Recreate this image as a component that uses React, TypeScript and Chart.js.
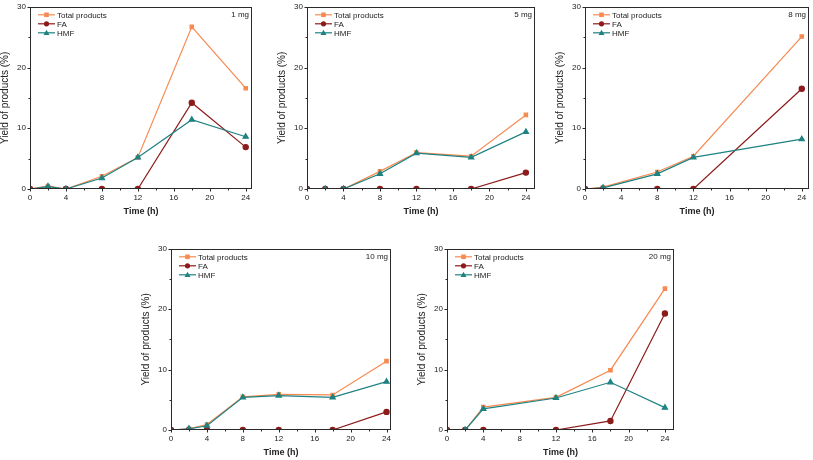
import React, { useEffect, useRef } from 'react';
import { Chart, registerables } from 'chart.js';
Chart.register(...registerables);

const FONT = '"Liberation Sans", Arial, sans-serif';
const COLOR_TOTAL = '#F78A50';
const COLOR_FA = '#8E1B1B';
const COLOR_HMF = '#1F8282';
const FRAME = '#2a2a2a';

const seriesNames = ['Total products', 'FA', 'HMF'];
const xTickLabels = [0, 4, 8, 12, 16, 20, 24];
const yTickLabels = [0, 10, 20, 30];

const time1 = [0, 2, 4, 8, 12, 18, 24];
const total1 = [0, 0.5, 0, 2.1, 5.2, 26.7, 16.6];
const fa1 = [0, 0.1, 0, 0, 0, 14.2, 6.9];
const hmf1 = [0, 0.4, 0, 1.8, 5.2, 11.4, 8.6];

const time5 = [0, 2, 4, 8, 12, 18, 24];
const total5 = [0, 0, 0, 2.9, 6.0, 5.4, 12.2];
const fa5 = [0, 0, 0, 0, 0, 0, 2.7];
const hmf5 = [0, 0, 0, 2.5, 5.9, 5.2, 9.4];

const time8 = [0, 2, 8, 12, 24];
const total8 = [0, 0.3, 2.8, 5.4, 25.1];
const fa8 = [0, 0, 0, 0, 16.5];
const hmf8 = [0, 0.2, 2.5, 5.2, 8.2];

const time10 = [0, 2, 4, 8, 12, 18, 24];
const total10 = [0, 0.2, 0.9, 5.5, 5.9, 5.8, 11.4];
const fa10 = [0, 0, 0, 0, 0, 0, 3.0];
const hmf10 = [0, 0.2, 0.7, 5.4, 5.7, 5.4, 8.0];

const time20 = [0, 2, 4, 12, 18, 24];
const total20 = [0, 0, 3.8, 5.4, 9.9, 23.4];
const fa20 = [0, 0, 0, 0, 1.5, 19.3];
const hmf20 = [0, 0, 3.5, 5.3, 7.9, 3.7];

const Y_W = 31;
const PAD_T = 7;
const PAD_R = 6;
const X_H = 28;

type PanelDef = {
  label: string;
  time: number[];
  total: number[];
  fa: number[];
  hmf: number[];
  xMax: number;
  left: number;
  top: number;
  width: number;
  height: number;
};

const panels: PanelDef[] = [
  { label: '1 mg', time: time1, total: total1, fa: fa1, hmf: hmf1, xMax: 24.7, left: 30, top: 5, width: 222, height: 184 },
  { label: '5 mg', time: time5, total: total5, fa: fa5, hmf: hmf5, xMax: 25, left: 307, top: 5, width: 228, height: 184 },
  { label: '8 mg', time: time8, total: total8, fa: fa8, hmf: hmf8, xMax: 24.8, left: 585, top: 5, width: 224, height: 184 },
  { label: '10 mg', time: time10, total: total10, fa: fa10, hmf: hmf10, xMax: 24.5, left: 171, top: 247, width: 220, height: 183 },
  { label: '20 mg', time: time20, total: total20, fa: fa20, hmf: hmf20, xMax: 25, left: 447, top: 247, width: 227, height: 183 },
];

function drawMarker(ctx: CanvasRenderingContext2D, style: string, x: number, y: number, color: string) {
  ctx.save();
  ctx.fillStyle = color;
  ctx.beginPath();
  if (style === 'rect') {
    ctx.rect(x - 2.3, y - 2.3, 4.6, 4.6);
  } else if (style === 'circle') {
    ctx.arc(x, y, 2.6, 0, Math.PI * 2);
  } else {
    ctx.moveTo(x, y - 3);
    ctx.lineTo(x + 3, y + 2.2);
    ctx.lineTo(x - 3, y + 2.2);
    ctx.closePath();
  }
  ctx.fill();
  ctx.restore();
}

function Panel({ p }: { p: PanelDef }) {
  const ref = useRef<HTMLCanvasElement>(null);
  const cw = p.width + Y_W + PAD_R;
  const ch = p.height + PAD_T + X_H;
  useEffect(() => {
    if (!ref.current) return;
    const mk = (t: number[], v: number[]) => t.map((x, i) => ({ x, y: v[i] }));
    const colors = [COLOR_TOTAL, COLOR_FA, COLOR_HMF];
    const styles = ['rect', 'circle', 'triangle'];
    const framePlugin = {
      id: 'frameTicks',
      afterDraw(chart: any) {
        const ctx = chart.ctx as CanvasRenderingContext2D;
        const a = chart.chartArea;
        const xs = chart.scales.x;
        const ys = chart.scales.y;
        ctx.save();
        ctx.strokeStyle = FRAME;
        ctx.lineWidth = 1;
        const L = Math.round(a.left) + 0.5;
        const R = Math.round(a.right) - 0.5;
        const T = Math.round(a.top) + 0.5;
        const B = Math.round(a.bottom) - 0.5;
        ctx.strokeRect(L, T, R - L, B - T);
        ctx.beginPath();
        for (let v = 0; v <= 24; v += 2) {
          const px = Math.round(xs.getPixelForValue(v)) + 0.5;
          const len = v % 4 === 0 ? 3 : 2;
          ctx.moveTo(px, B);
          ctx.lineTo(px, B + len);
        }
        for (let v = 0; v <= 30; v += 5) {
          const py = Math.round(ys.getPixelForValue(v)) + 0.5;
          const len = v % 10 === 0 ? 3 : 2;
          ctx.moveTo(L, py);
          ctx.lineTo(L - len, py);
        }
        ctx.stroke();
        // legend
        ctx.font = `8px ${FONT}`;
        ctx.textBaseline = 'middle';
        ctx.textAlign = 'left';
        for (let i = 0; i < 3; i++) {
          const y = a.top + 8 + i * 9;
          const x0 = a.left + 8;
          const x1 = a.left + 25;
          ctx.strokeStyle = colors[i];
          ctx.lineWidth = 1.2;
          ctx.beginPath();
          ctx.moveTo(x0, y);
          ctx.lineTo(x1, y);
          ctx.stroke();
          drawMarker(ctx, styles[i], (x0 + x1) / 2, y, colors[i]);
          ctx.fillStyle = '#222';
          ctx.fillText(seriesNames[i], x1 + 2, y + 0.5);
        }
        ctx.textAlign = 'right';
        ctx.fillStyle = '#222';
        ctx.fillText(p.label, a.right - 3, a.top + 8);
        ctx.restore();
      },
    };
    const chart = new Chart(ref.current, {
      type: 'line',
      data: {
        datasets: [
          { label: seriesNames[0], data: mk(p.time, p.total), borderColor: COLOR_TOTAL, backgroundColor: COLOR_TOTAL, pointStyle: 'rect', pointRadius: 2.4, borderWidth: 1.2, order: 3 },
          { label: seriesNames[1], data: mk(p.time, p.fa), borderColor: COLOR_FA, backgroundColor: COLOR_FA, pointStyle: 'circle', pointRadius: 2.6, borderWidth: 1.2, order: 2 },
          { label: seriesNames[2], data: mk(p.time, p.hmf), borderColor: COLOR_HMF, backgroundColor: COLOR_HMF, pointStyle: 'triangle', pointRadius: 3, borderWidth: 1.2, order: 1 },
        ],
      },
      options: {
        animation: false,
        responsive: false,
        maintainAspectRatio: false,
        layout: { padding: { left: 0, top: PAD_T, right: PAD_R, bottom: 0 } },
        plugins: { legend: { display: false }, tooltip: { enabled: false } },
        elements: { point: { borderWidth: 0 } },
        scales: {
          x: {
            type: 'linear',
            min: 0,
            max: p.xMax,
            grid: { display: false, drawTicks: false },
            border: { display: false },
            afterFit: (s: any) => { s.height = X_H; },
            afterBuildTicks: (s: any) => { s.ticks = xTickLabels.map((v) => ({ value: v })); },
            ticks: { padding: 4, maxRotation: 0, autoSkip: false, color: '#222', font: { family: FONT, size: 8 } },
            title: { display: true, text: 'Time (h)', color: '#222', padding: { top: 0, bottom: 0 }, font: { family: FONT, size: 9, weight: 'bold', lineHeight: 1.2 } },
          },
          y: {
            type: 'linear',
            min: 0,
            max: 30,
            grid: { display: false, drawTicks: false },
            border: { display: false },
            afterFit: (s: any) => { s.width = Y_W; },
            afterBuildTicks: (s: any) => { s.ticks = yTickLabels.map((v) => ({ value: v })); },
            ticks: { padding: 4, color: '#222', font: { family: FONT, size: 8 } },
            title: { display: true, text: 'Yield of products (%)', color: '#222', padding: { top: 0, bottom: 0 }, font: { family: FONT, size: 10, lineHeight: 1.2 } },
          },
        },
      },
      plugins: [framePlugin],
    } as any);
    return () => chart.destroy();
  }, [p]);
  return (
    <canvas
      ref={ref}
      width={cw}
      height={ch}
      style={{ position: 'absolute', left: p.left - Y_W, top: p.top - PAD_T, width: cw, height: ch }}
    />
  );
}

export default function App() {
  return (
    <div style={{ position: 'absolute', left: 0, top: 0, width: 813, height: 460, background: '#fff', overflow: 'hidden' }}>
      {panels.map((p) => (
        <Panel key={p.label} p={p} />
      ))}
    </div>
  );
}
